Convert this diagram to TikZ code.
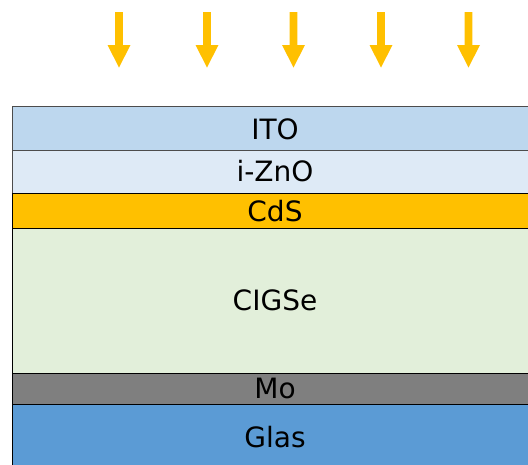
\documentclass[tikz,border=0pt]{standalone}
\usepackage{fontspec}
\setmainfont{DejaVu Sans}
\definecolor{itoC}{HTML}{BDD7EE}
\definecolor{znoC}{HTML}{DEEAF6}
\definecolor{cdsC}{HTML}{FFC000}
\definecolor{cigC}{HTML}{E2EFDA}
\definecolor{moC}{HTML}{7F7F7F}
\definecolor{glasC}{HTML}{5B9BD5}
\definecolor{arrC}{HTML}{FFC000}
\begin{document}
\begin{tikzpicture}[x=1pt,y=-1pt,
  layer/.style={draw=black, line width=0.8pt, font=\fontsize{28}{32}\selectfont, inner sep=0pt},
  sun/.style={fill=arrC, draw=none}]
\useasboundingbox (0,0) rectangle (528,464);
\path[layer, fill=itoC, draw=black!70] (12.5,106) rectangle (540,150);
\path[layer, fill=znoC, draw=black!70] (12.5,150) rectangle (540,193);
\path[layer, fill=cdsC] (12.5,193) rectangle (540,228);
\path[layer, fill=cigC] (12.5,228) rectangle (540,373);
\path[layer, fill=moC] (12.5,373) rectangle (540,404);
\path[layer, fill=glasC] (12.5,404) rectangle (540,470);
\node[layer, draw=none] (ito) at (275,129) {ITO};
\node[layer, draw=none] (zno) at (275,171.5) {i-ZnO};
\node[layer, draw=none] (cds) at (275,211) {CdS};
\node[layer, draw=none] (cig) at (275,300.5) {CIGSe};
\node[layer, draw=none] (mo) at (275,388.5) {Mo};
\node[layer, draw=none] (glas) at (275,437) {Glas};
\foreach \x in {119,207,293.5,381,468.5}{
  \fill[sun] (\x-3.8,12) -- (\x+3.8,12) -- (\x+3.8,45) -- (\x+11.5,45) -- (\x,67.5) -- (\x-11.5,45) -- (\x-3.8,45) -- cycle;
}
\end{tikzpicture}
\end{document}
